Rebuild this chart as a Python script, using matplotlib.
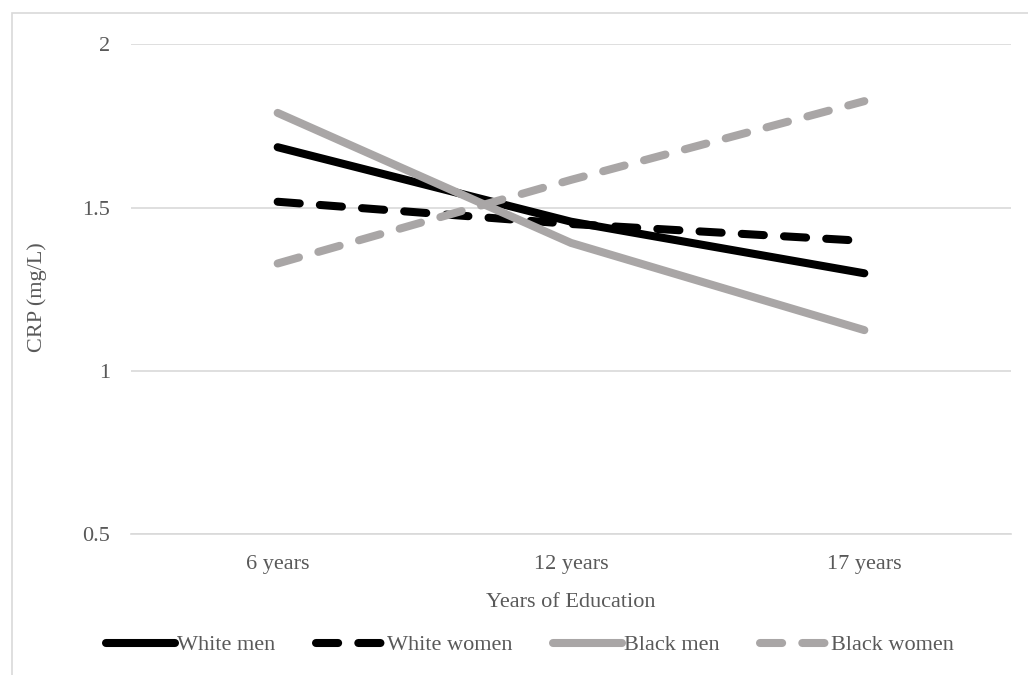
import matplotlib.pyplot as plt
from matplotlib.patches import Rectangle

plt.rcParams['font.family'] = ['Liberation Serif', 'DejaVu Serif']

# CRP by years of education, for each race/sex group
education = ["6 years", "12 years", "17 years"]
white_men = [1.685, 1.457, 1.299]
white_women = [1.518, 1.450, 1.398]
black_men = [1.790, 1.392, 1.125]
black_women = [1.329, 1.585, 1.826]

text_col = '#595959'
grid_col = '#d9d9d9'
grey = '#a9a6a6'
dash = (0, (2.75, 2.5))
fs = 16

W, H = 1028, 675
fig = plt.figure(figsize=(W / 100, H / 100), dpi=100)

# light frame round the chart area
fig.patches.append(Rectangle((12 / W, -0.1), 1.2, 1 - 13 / H + 0.1,
                             transform=fig.transFigure, fill=False,
                             edgecolor=grid_col, lw=1.2, zorder=0))

ax = fig.add_axes([131 / W, 1 - 534.3 / H, 880 / W, 490 / H])
x = range(len(education))
lw = 5.8
ax.plot(x, white_men, color='black', lw=lw, solid_capstyle='round', label='White men')
ax.plot(x, white_women, color='black', lw=lw, linestyle=dash,
        dash_capstyle='round', label='White women')
ax.plot(x, black_men, color=grey, lw=lw, solid_capstyle='round', label='Black men')
ax.plot(x, black_women, color=grey, lw=lw, linestyle=dash,
        dash_capstyle='round', label='Black women')

ax.set_xlim(-0.5, 2.5)
ax.set_ylim(0.5, 2)
ax.set_yticks([0.5, 1, 1.5, 2])
ax.set_yticklabels(['0.5', '1', '1.5', '2'])
ax.set_xticks(list(x))
ax.set_xticklabels(education)
ax.yaxis.grid(True, color=grid_col, lw=1.2)
ax.set_axisbelow(True)
for s in ['top', 'right', 'left']:
    ax.spines[s].set_visible(False)
ax.spines['bottom'].set_color(grid_col)
ax.spines['bottom'].set_linewidth(1.2)
ax.tick_params(axis='both', length=0, labelsize=fs, colors=text_col)
ax.tick_params(axis='y', pad=15)
ax.tick_params(axis='x', pad=15)

ax.set_ylabel('CRP (mg/L)', fontsize=fs, color=text_col)
ax.yaxis.set_label_coords(-0.095, 0.485)
ax.set_xlabel('Years of Education', fontsize=fs, color=text_col)
ax.xaxis.set_label_coords(0.5, -0.12)

fig.legend(loc='center', bbox_to_anchor=(530 / W, 1 - 645 / H), ncol=4,
           frameon=False, fontsize=fs, labelcolor=text_col,
           handlelength=3.1, handletextpad=0.12, columnspacing=1.8)

fig.savefig('out.png', dpi=100)
